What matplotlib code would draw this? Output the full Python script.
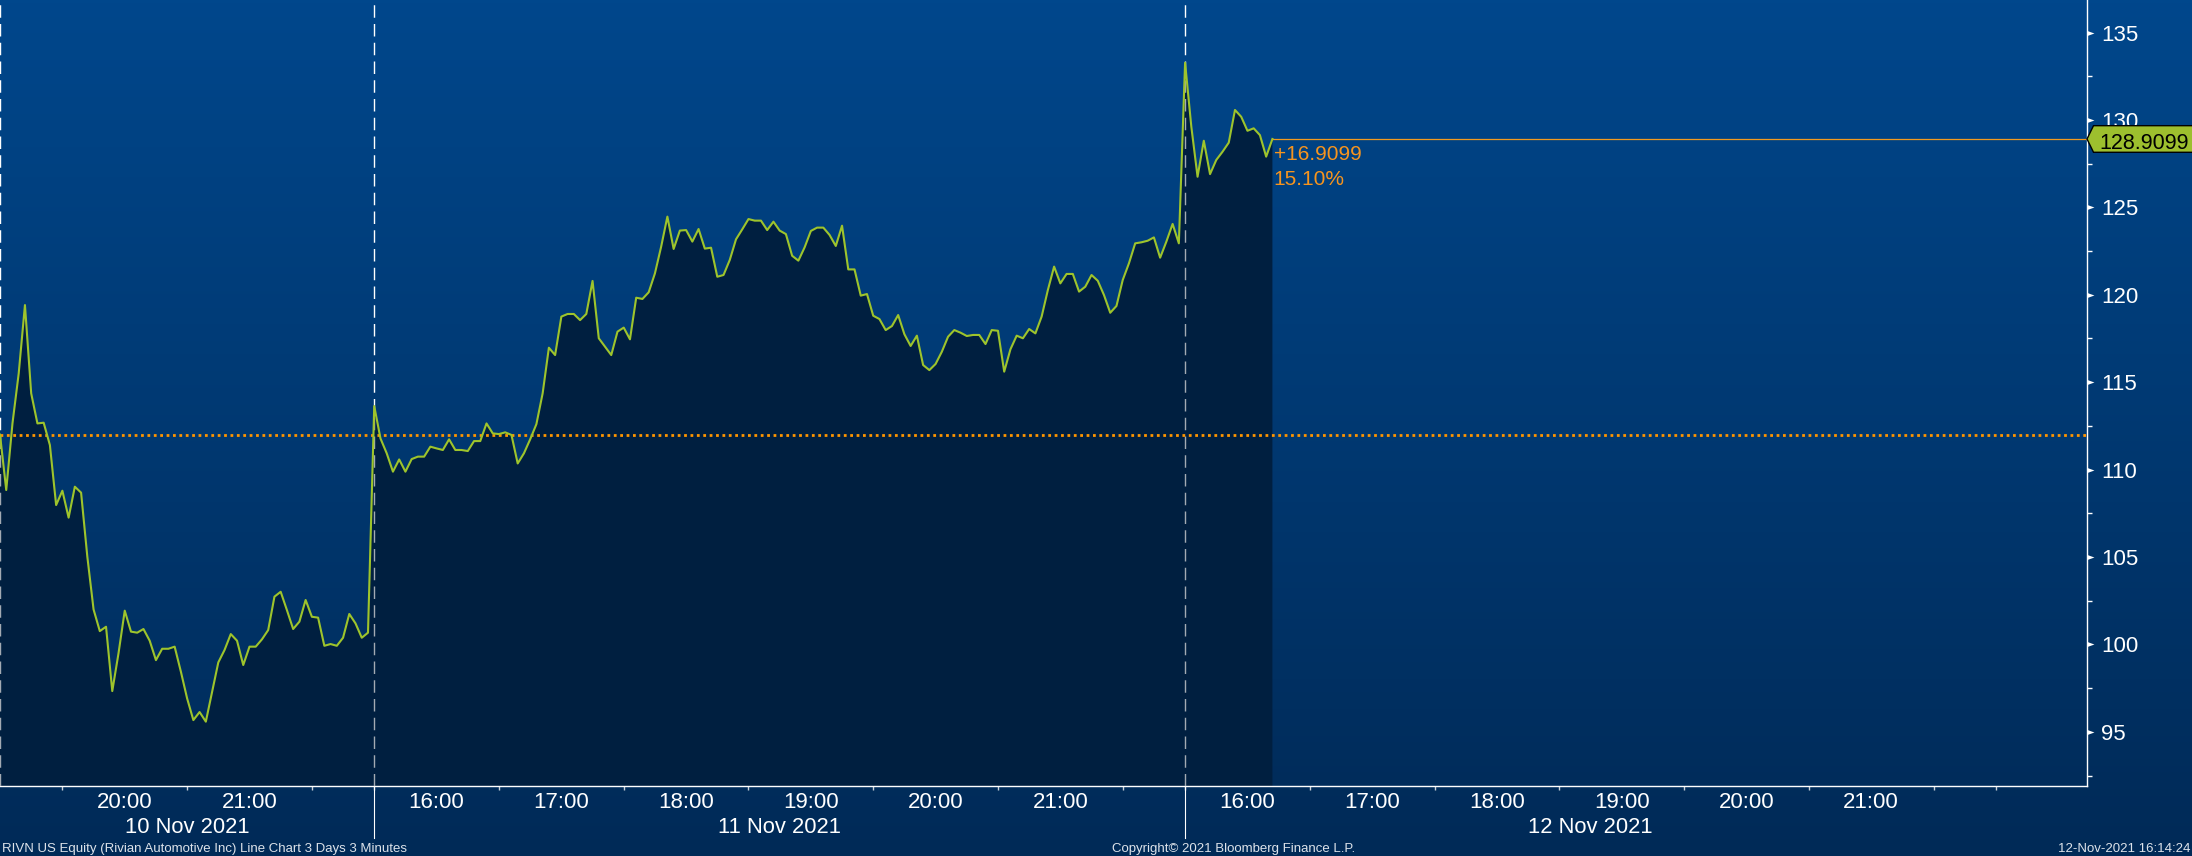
import matplotlib
matplotlib.use('Agg')
import matplotlib.pyplot as plt
import matplotlib.transforms as mtransforms
from matplotlib.colors import LinearSegmentedColormap
from matplotlib.patches import Polygon
import numpy as np

plt.rcParams['font.family'] = ['Liberation Sans', 'DejaVu Sans']

# precios de cierre cada 3 minutos (RIVN), una lista por sesion
dia1 = [112.00, 108.83, 112.64, 115.50, 119.41, 114.36, 112.64, 112.68, 111.40, 107.97,
        108.79, 107.25, 109.02, 108.68, 105.02, 102.00, 100.76, 101.01, 97.33, 99.49,
        101.93, 100.73, 100.67, 100.88, 100.21, 99.10, 99.75, 99.75, 99.87, 98.44,
        96.91, 95.67, 96.13, 95.58, 97.29, 98.97, 99.68, 100.59, 100.21, 98.82,
        99.87, 99.87, 100.29, 100.82, 102.73, 103.01, 101.96, 100.88, 101.30, 102.54,
        101.58, 101.53, 99.92, 100.02, 99.92, 100.38, 101.74, 101.20, 100.38, 100.67]
dia2 = [113.63, 111.78, 110.93, 109.88, 110.58, 109.88, 110.60, 110.74, 110.74, 111.31,
        111.21, 111.12, 111.73, 111.12, 111.12, 111.06, 111.63, 111.63, 112.64, 112.07,
        112.03, 112.13, 111.98, 110.35, 110.93, 111.73, 112.60, 114.36, 116.97, 116.55,
        118.75, 118.90, 118.90, 118.55, 118.90, 120.79, 117.51, 117.03, 116.55, 117.89,
        118.12, 117.45, 119.83, 119.76, 120.14, 121.22, 122.75, 124.47, 122.62, 123.67,
        123.70, 123.04, 123.76, 122.64, 122.69, 121.03, 121.13, 121.99, 123.17, 123.74,
        124.33, 124.24, 124.24, 123.70, 124.18, 123.67, 123.47, 122.23, 121.95, 122.71,
        123.65, 123.84, 123.84, 123.42, 122.79, 123.95, 121.45, 121.45, 119.95, 120.04,
        118.80, 118.61, 117.98, 118.21, 118.84, 117.74, 117.07, 117.66, 115.98, 115.69,
        116.04, 116.74, 117.60, 117.98, 117.83, 117.64, 117.70, 117.70, 117.18, 117.98,
        117.94, 115.60, 116.88, 117.66, 117.51, 118.04, 117.79, 118.75, 120.27, 121.61,
        120.65, 121.19, 121.19, 120.18, 120.46, 121.13, 120.80, 119.98, 118.97, 119.36,
        120.84, 121.80, 122.94, 123.00, 123.09, 123.28, 122.12, 123.04, 124.05, 122.94]
dia3 = [133.27, 129.61, 126.75, 128.81, 126.90, 127.71, 128.18, 128.70, 130.57, 130.18,
        129.38, 129.52, 129.13, 127.90, 128.9099]

fechas = ['10 Nov 2021', '11 Nov 2021', '12 Nov 2021']
apertura = ['19:00', '15:30', '15:30']
cierre = '22:00'
horas = [['20:00', '21:00'],
         ['16:00', '17:00', '18:00', '19:00', '20:00', '21:00'],
         ['16:00', '17:00', '18:00', '19:00', '20:00', '21:00']]
cierre_previo = 112.0
ultimo = 128.9099
cambio = '+16.9099'
cambio_pct = '15.10%'
y_ticks = [95, 100, 105, 110, 115, 120, 125, 130, 135]

titulo = 'RIVN US Equity (Rivian Automotive Inc) Line Chart 3 Days 3 Minutes'
copyright_txt = 'Copyright\u00a9 2021 Bloomberg Finance L.P.'
sello = '12-Nov-2021 16:14:24'


def minutos(s):
    h, m = s.split(':')
    return int(h) * 60 + int(m)


precios = np.array(dia1 + dia2 + dia3)
x = np.arange(len(precios))

# posicion (en barras de 3 min) del inicio de cada sesion
inicios = []
pos = 0
for a in apertura:
    inicios.append(pos)
    pos += (minutos(cierre) - minutos(a)) // 3
fin = pos

ticks_x = []
pos_horas = []
etiquetas_horas = []
for s, a, hs in zip(inicios, apertura, horas):
    m0 = minutos(a)
    for m in range(m0 + 1, minutos(cierre) + 1):
        if m % 60 == 30 or m == minutos(cierre):
            ticks_x.append(s + (m - m0) / 3)
    for h in hs:
        pos_horas.append(s + (minutos(h) - m0) / 3)
        etiquetas_horas.append(h)
centros = [(s + e) / 2 for s, e in zip(inicios, inicios[1:] + [fin])]

xmax = 334.6
ymin, ymax = 91.9, 136.86

fig = plt.figure(figsize=(21.92, 8.56), dpi=100)

fondo = fig.add_axes([0, 0, 1, 1], zorder=-10)
grad = np.linspace(0, 1, 256).reshape(-1, 1)
cmap = LinearSegmentedColormap.from_list('bb', ['#00478c', '#002a57'])
fondo.imshow(grad, aspect='auto', cmap=cmap, extent=[0, 1, 0, 1], origin='upper')
fondo.axis('off')

ax = fig.add_axes([0, 70 / 856, 2087 / 2192, 786 / 856])
ax.set_facecolor('none')
ax.set_xlim(0, xmax)
ax.set_ylim(ymin, ymax)

guiones = (0, (9, 4.5))
for s in inicios:
    ax.axvline(s, color='white', lw=1, ls=guiones, zorder=1)

relleno = ax.fill_between(x, precios, ymin - 10, color='#001f40', lw=0, zorder=2)
ruta = relleno.get_paths()[0]
for s in inicios:
    l = ax.axvline(s, color='#a3aab3', lw=1, ls=guiones, zorder=3)
    l.set_clip_path(ruta, ax.transData)

ax.axhline(cierre_previo, color='#ff9500', lw=2, ls=(0, (1, 1.3)), zorder=4)
ax.hlines(ultimo, x[-1], xmax, color='#f29a1f', lw=0.9, zorder=4)
ax.plot(x, precios, color='#9ec42c', lw=1.5, zorder=5)

ax.annotate(cambio, (x[-1], ultimo), xytext=(1, -15.1), textcoords='offset points',
            color='#f7941d', fontsize=15, ha='left', va='baseline')
ax.annotate(cambio_pct, (x[-1], ultimo), xytext=(1, -33.1), textcoords='offset points',
            color='#f7941d', fontsize=15, ha='left', va='baseline')

# eje y a la derecha
ax.yaxis.tick_right()
ax.set_yticks(y_ticks)
ax.set_yticks(np.arange(92.5, 136, 5), minor=True)
ax.tick_params(axis='y', which='major', length=0, pad=10, labelsize=16, labelcolor='white')
ax.tick_params(axis='y', which='minor', length=3.6, width=1, color='white')

mezcla = mtransforms.blended_transform_factory(ax.transAxes, ax.transData)
tri = [(0, -2.5), (7, 0), (0, 2.5)]
ax.plot(np.ones(len(y_ticks)), y_ticks, transform=mezcla, ls='none', marker=tri,
        ms=10, mew=0, color='white', clip_on=False, zorder=6)

# etiqueta del ultimo precio
desp = fig.dpi_scale_trans + mtransforms.ScaledTranslation(1.0, ultimo, mezcla)
caja = Polygon([(0, 0), (0.065, 0.133), (1.3, 0.133), (1.3, -0.133), (0.065, -0.133)],
               closed=True, facecolor='#9dbf2e', edgecolor='black', lw=1,
               transform=desp, clip_on=False, zorder=7)
fig.add_artist(caja)
fig.text(0.12, -0.10, f'{ultimo:.4f}', transform=desp, fontsize=15.5, color='black',
         ha='left', va='baseline', zorder=8)

# eje x
ax.set_xticks(ticks_x)
ax.set_xticklabels([''] * len(ticks_x))
ax.set_xticks(pos_horas, etiquetas_horas, minor=True)
ax.tick_params(axis='x', which='major', length=3, width=1, color='#c8d0d8')
ax.tick_params(axis='x', which='minor', length=0, pad=4.5, labelsize=16, labelcolor='white')

mezcla_x = mtransforms.blended_transform_factory(ax.transData, ax.transAxes)
for c, f in zip(centros, fechas):
    ax.text(c, -47 / 786, f, transform=mezcla_x, fontsize=15.8, color='white',
            ha='center', va='baseline')
for s in inicios[1:]:
    ax.plot([s, s], [0, -52 / 786], transform=mezcla_x, color='white', lw=0.8,
            clip_on=False)

for lado in ['top', 'left']:
    ax.spines[lado].set_visible(False)
for lado in ['right', 'bottom']:
    ax.spines[lado].set_color('white')
    ax.spines[lado].set_linewidth(1)

fig.text(2 / 2192, 4 / 856, titulo, fontsize=9.5, color='#dde3ea', ha='left', va='baseline')
fig.text(1112 / 2192, 4 / 856, copyright_txt, fontsize=9.5, color='#dde3ea', ha='left', va='baseline')
fig.text(2190 / 2192, 4 / 856, sello, fontsize=9.5, color='#dde3ea', ha='right', va='baseline')

fig.savefig('out.png', dpi=100)
